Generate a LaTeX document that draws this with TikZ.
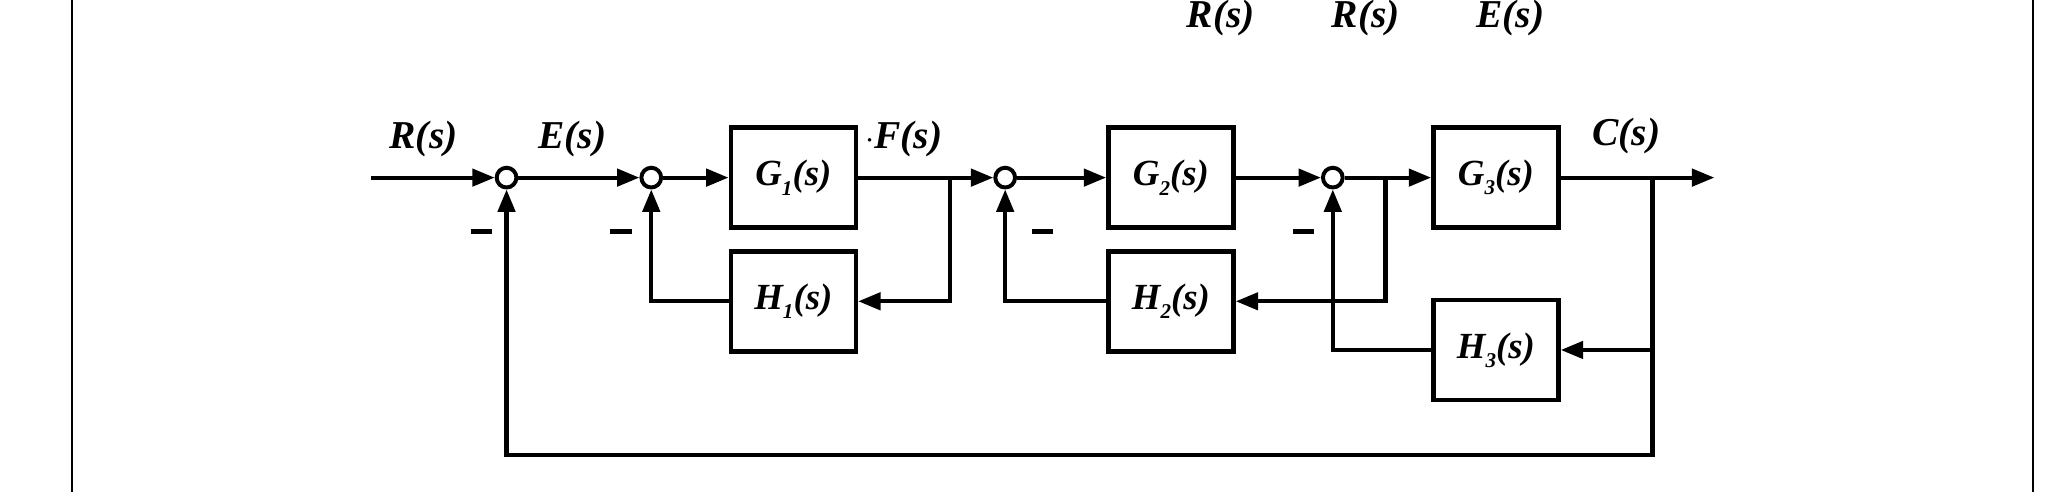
\documentclass[tikz,border=0pt]{standalone}
\usepackage{fontspec}
\setmainfont{Liberation Serif}
\usetikzlibrary{arrows.meta}
\newcommand{\sbs}[1]{\raisebox{-0.25em}{\fontsize{16}{16}\selectfont #1}}
\begin{document}
\begin{tikzpicture}[x=1pt,y=-1pt,
  ln/.style={line width=3.2pt},
  ar/.style={ln,-{Triangle[length=17pt,width=13pt]}},
  blk/.style={draw,line width=3.5pt,minimum width=95pt,minimum height=76pt,inner sep=0pt,font=\fontsize{28}{30}\selectfont\bfseries\itshape},
  sum/.style={draw,circle,line width=3pt,minimum size=15pt,inner sep=0pt},
  lab/.style={font=\fontsize{30}{32}\selectfont\bfseries\itshape,inner sep=0pt},
  mn/.style={inner sep=0pt}]
\useasboundingbox (0,0) rectangle (1568,374);
\fill[white] (0,0) rectangle (1568,374);
\draw[line width=1.5pt] (55,0) -- (55,374);
\draw[line width=1.5pt] (1545,0) -- (1545,374);
% top text
\node[lab] (t1) at (928,14) {R(s)};
\node[lab] (t2) at (1038,14) {R(s)};
\node[lab] (t3) at (1148,14) {E(s)};
% nodes
\coordinate (in) at (282,135);
\node[sum] (s1) at (385,135) {};
\node[sum] (s2) at (495,135) {};
\node[blk] (G1) at (603,135) {G\sbs{1}(s)};
\node[blk] (H1) at (603,229) {H\sbs{1}(s)};
\node[sum] (s3) at (764,135) {};
\node[blk] (G2) at (890,135) {G\sbs{2}(s)};
\node[blk] (H2) at (890,229) {H\sbs{2}(s)};
\node[sum] (s4) at (1013,135) {};
\node[blk] (G3) at (1137,135) {G\sbs{3}(s)};
\node[blk] (H3) at (1137,266) {H\sbs{3}(s)};
\coordinate (out) at (1303,135);
\coordinate (b1) at (722,135);
\coordinate (b2) at (1053,135);
\coordinate (b3) at (1256,135);
% labels
\node[lab] (lR) at (322,106) {R(s)};
\node[lab] (lE) at (435,106) {E(s)};
\node[lab] (lF) at (687,106) {$\cdot$F(s)};
\node[lab] (lC) at (1236,103) {C(s)};
\node[mn] (m1) at (366,176) {\rule{16pt}{3.5pt}};
\node[mn] (m2) at (472,176) {\rule{16pt}{3.5pt}};
\node[mn] (m3) at (792,176) {\rule{16pt}{3.5pt}};
\node[mn] (m4) at (991,176) {\rule{16pt}{3.5pt}};
% forward path
\draw[ar] (in) -- (s1.west);
\draw[ar] (s1.east) -- (s2.west);
\draw[ar] (s2.east) -- (G1.west);
\draw[ar] (G1.east) -- (s3.west);
\draw[ar] (s3.east) -- (G2.west);
\draw[ar] (G2.east) -- (s4.west);
\draw[ar] (s4.east) -- (G3.west);
\draw[ar] (G3.east) -- (out);
% feedback
\draw[ar] (b1) |- (H1.east);
\draw[ar] (H1.west) -| (s2.south);
\draw[ar] (b2) |- (H2.east);
\draw[ar] (H2.west) -| (s3.south);
\draw[ar] (b3) |- (H3.east);
\draw[ar] (H3.west) -| (s4.south);
\draw[ar] (b3) |- (385,346) -- (s1.south);
\end{tikzpicture}
\end{document}
